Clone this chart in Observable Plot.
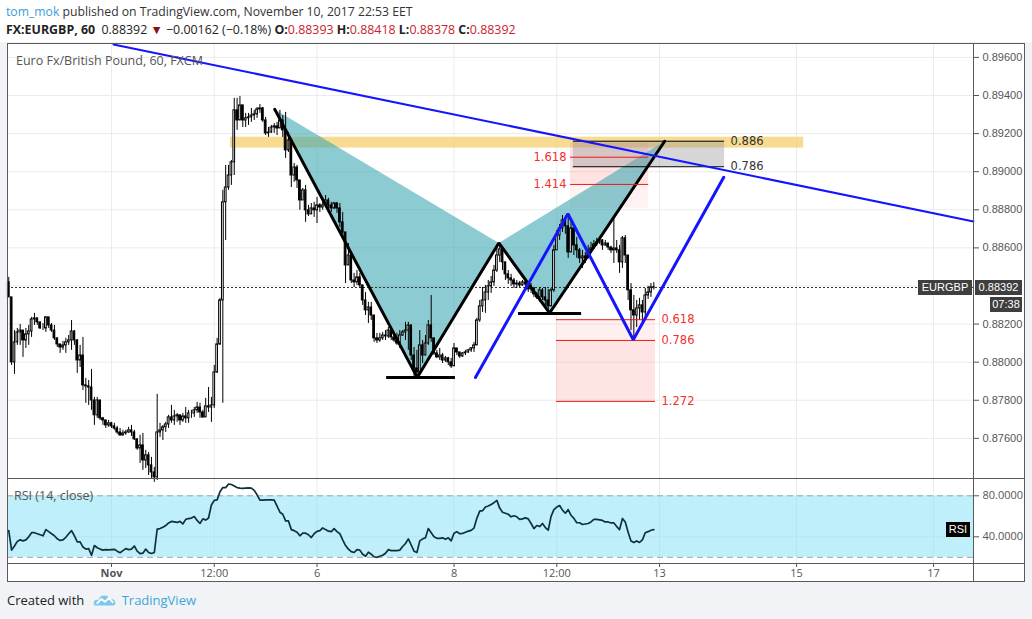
<!DOCTYPE html>
<html><head><meta charset="utf-8">
<script src="https://cdn.jsdelivr.net/npm/d3@7"></script>
<script src="https://cdn.jsdelivr.net/npm/@observablehq/plot@0.6"></script>
<style>
html,body{margin:0;padding:0;}
body{width:1032px;height:619px;background:#f1f3f6;position:relative;overflow:hidden;font-family:"Open Sans",sans-serif;}
#hdr{position:absolute;left:0;top:0;width:1032px;height:42px;background:#fff;}
#hdr .l1{position:absolute;left:6px;top:3px;font-size:12.2px;color:#333;white-space:nowrap;}
#hdr .l2{position:absolute;left:6px;top:21px;font-size:12.4px;color:#222;white-space:nowrap;}
.red{color:#c8232c}
#chart{position:absolute;left:7px;top:43px;width:1018px;height:539px;background:#fff;}
#main{position:absolute;left:0;top:0;}
#rsi{position:absolute;left:0;top:436px;}
.ln{position:absolute;background:#5a5a5a;}
.tag{position:absolute;color:#fff;font:11px "Liberation Sans",Arial,sans-serif;height:15px;line-height:15px;text-align:center;}
.leg{position:absolute;font-size:12.5px;color:#555;white-space:nowrap;}
#foot{position:absolute;left:7px;top:591px;font-size:13px;color:#222;white-space:nowrap;}
#foot .tv{color:#3ea6da;}
</style></head><body>
<div id="hdr">
  <div class="l1"><span style="color:#3aa0d8">tom_mok</span> published on TradingView.com, November 10, 2017 22:53 EET</div>
  <div class="l2"><b>FX:EURGBP, 60</b>&nbsp; 0.88392 <span style="color:#8b1010">&#9660;</span> &#8722;0.00162 (&#8722;0.18%) <b>O:</b><span class="red">0.88393</span> <b>H:</b><span class="red">0.88418</span> <b>L:</b><span class="red">0.88378</span> <b>C:</b><span class="red">0.88392</span></div>
</div>
<div id="chart">
  <div id="main"></div>
  <div id="rsi"></div>
</div>
<div id="foot"><span>Created with</span>
<svg width="24" height="16" viewBox="0 0 26 16" style="vertical-align:-3px;margin:0 5px 0 5px"><path d="M3 14 Q0 14 1 10 Q2 7 6 8 Q7 3 12 3 Q17 3 18 7 Q23 6 24 10 Q25 14 21 14 Z" fill="#7cc7ec"/><path d="M4 12 L9 7 L13 10 L17 6 L22 11" fill="none" stroke="#fff" stroke-width="2"/></svg><span class="tv">TradingView</span></div>
<script>
// ---------- data ----------
const firstOpen = 0.88419;
const closes = [.88340,.87999,.88104,.88156,.88166,.88114,.88146,.88161,.88224,.88230,
.88209,.88177,.88177,.88235,.88193,.88166,.88125,.88093,.88077,.88088,
.88104,.88114,.88161,.88114,.88009,.88035,.87878,.87873,.87867,.87799,
.87721,.87799,.87705,.87694,.87668,.87679,.87663,.87652,.87631,.87616,
.87626,.87631,.87642,.87631,.87595,.87547,.87563,.87484,.87511,.87458,
.87421,.87395,.87631,.87642,.87658,.87673,.87710,.87694,.87715,.87721,
.87694,.87715,.87705,.87731,.87731,.87747,.87762,.87736,.87710,.87768,
.87762,.87773,.87946,.88093,.88324,.88839,.88917,.88980,.89049,.89322,
.89269,.89348,.89269,.89280,.89285,.89295,.89301,.89327,.89332,.89269,
.89201,.89206,.89232,.89238,.89227,.89269,.89217,.89112,.89164,.88980,
.89022,.88954,.88849,.88902,.88797,.88776,.88807,.88797,.88823,.88812,
.88823,.88849,.88823,.88807,.88833,.88807,.88734,.88681,.88508,.88560,
.88429,.88419,.88445,.88403,.88324,.88272,.88287,.88245,.88125,.88114,
.88125,.88140,.88135,.88166,.88130,.88114,.88098,.88140,.88156,.88166,
.88193,.88035,.87967,.87946,.88088,.88035,.88098,.88193,.88125,.88046,
.88025,.88035,.88009,.88020,.87999,.87978,.88072,.88051,.88030,.88046,
.88051,.88062,.88072,.88088,.88219,.88293,.88324,.88366,.88398,.88419,
.88481,.88560,.88592,.88524,.88461,.88440,.88429,.88408,.88413,.88403,
.88419,.88408,.88382,.88387,.88356,.88340,.88377,.88340,.88324,.88293,
.88377,.88587,.88665,.88702,.88744,.88713,.88576,.88702,.88613,.88587,
.88545,.88555,.88545,.88587,.88597,.88618,.88629,.88639,.88613,.88623,
.88602,.88587,.88597,.88587,.88524,.88650,.88560,.88377,.88272,.88245,
.88282,.88298,.88261,.88350,.88366,.88393,.88392];
const highs = [.88445,.88340,.88166,.88177,.88198,.88156,.88177,.88193,.88235,.88256,
.88230,.88203,.88203,.88240,.88235,.88203,.88193,.88125,.88093,.88109,
.88125,.88140,.88219,.88166,.88119,.88088,.88130,.87915,.87904,.87962,
.87815,.87815,.87773,.87710,.87694,.87694,.87684,.87679,.87663,.87652,
.87642,.87642,.87658,.87668,.87642,.87589,.87616,.87626,.87537,.87526,
.87500,.87448,.87831,.87679,.87668,.87684,.87721,.87773,.87747,.87731,
.87721,.87731,.87762,.87747,.87747,.87762,.87789,.87784,.87747,.87810,
.87867,.87815,.87983,.88125,.88335,.88902,.89033,.89033,.89059,.89385,
.89385,.89395,.89311,.89306,.89306,.89332,.89322,.89337,.89353,.89337,
.89285,.89232,.89243,.89253,.89259,.89322,.89295,.89311,.89206,.89138,
.89043,.89033,.88938,.88912,.88928,.88823,.88833,.88839,.88865,.88833,
.88839,.88875,.88860,.88839,.88839,.88839,.88833,.88786,.88665,.88623,
.88518,.88466,.88481,.88466,.88392,.88366,.88314,.88314,.88230,.88151,
.88151,.88156,.88166,.88182,.88166,.88156,.88151,.88166,.88166,.88209,
.88209,.88130,.88077,.88062,.88166,.88114,.88140,.88219,.88350,.88088,
.88062,.88072,.88046,.88030,.88025,.88020,.88098,.88072,.88046,.88051,
.88062,.88067,.88077,.88104,.88230,.88324,.88392,.88403,.88429,.88450,
.88508,.88602,.88623,.88587,.88508,.88481,.88461,.88440,.88429,.88424,
.88429,.88429,.88413,.88413,.88392,.88366,.88392,.88387,.88392,.88382,
.88387,.88613,.88692,.88723,.88770,.88755,.88770,.88744,.88692,.88655,
.88597,.88587,.88576,.88613,.88629,.88639,.88650,.88655,.88644,.88639,
.88618,.88608,.88755,.88639,.88613,.88660,.88665,.88481,.88413,.88350,
.88324,.88335,.88324,.88387,.88398,.88413,.88418];
const lows = [.88340,.87983,.87936,.88088,.88088,.88025,.88072,.88088,.88130,.88193,
.88193,.88172,.88166,.88156,.88177,.88156,.88114,.88077,.88046,.88062,
.88046,.88088,.88062,.88088,.87941,.87972,.87852,.87784,.87773,.87747,
.87668,.87705,.87694,.87668,.87652,.87658,.87652,.87642,.87621,.87610,
.87610,.87616,.87626,.87610,.87589,.87537,.87468,.87432,.87442,.87405,
.87390,.87369,.87379,.87605,.87589,.87631,.87652,.87679,.87668,.87684,
.87668,.87684,.87679,.87679,.87705,.87710,.87731,.87705,.87705,.87731,
.87736,.87684,.87757,.87941,.88088,.87784,.88639,.88902,.88928,.88980,
.89217,.89280,.89232,.89232,.89243,.89259,.89269,.89280,.89306,.89259,
.89190,.89180,.89201,.89201,.89190,.89232,.89180,.89070,.89101,.88917,
.88944,.88912,.88797,.88849,.88734,.88765,.88786,.88760,.88728,.88786,
.88797,.88818,.88797,.88786,.88802,.88781,.88707,.88650,.88413,.88518,
.88413,.88392,.88403,.88387,.88298,.88245,.88203,.88219,.88104,.88098,
.88104,.88114,.88114,.88125,.88114,.88104,.88088,.88072,.88135,.88114,
.88062,.88009,.87920,.87920,.87957,.87993,.88051,.88088,.88104,.88035,
.88020,.88009,.87993,.87999,.87983,.87967,.87999,.88035,.88020,.88025,
.88035,.88046,.88051,.88051,.88088,.88209,.88261,.88256,.88324,.88361,
.88398,.88471,.88524,.88481,.88429,.88408,.88398,.88387,.88387,.88392,
.88398,.88387,.88366,.88361,.88340,.88329,.88314,.88324,.88298,.88261,
.88356,.88366,.88587,.88639,.88681,.88671,.88545,.88613,.88560,.88545,
.88518,.88492,.88518,.88545,.88571,.88592,.88608,.88618,.88587,.88608,
.88587,.88571,.88518,.88571,.88466,.88492,.88518,.88324,.88166,.88130,
.88182,.88219,.88203,.88235,.88329,.88340,.88378];
const rsiValues = [46,27,31,35.5,37,36,37,40,44,44,
43,42,41,47,45,43,41,38,36.5,37,
39.5,43,46,41,35,35,30,28,28.5,22,
31.5,29.3,28,27,27.5,27.2,27.5,27.8,26,24.5,
26.5,28.5,27.5,28,31,26,23.5,24,28,24.7,
23.7,24.7,47.5,48,49.3,51,53.5,55,54.5,54,
55,52.5,57,57.8,58.3,59.7,56,53,57.5,56.3,
58.3,71,75.5,76,84,88,88,91.5,91,89.5,
88,87.5,87.2,87.5,87.8,87.5,85.3,81,75.7,75.7,
76,76,76,75.8,70,64,62,55.5,55.5,47,
46,44.5,41,43.5,43.5,42,39.3,43,45.3,46,
48.6,47,45.5,45,48,45,43,37,31.5,28,
25.5,24.7,27.5,27,23,21,25,23,20.5,20,
21,22,24,27.5,26.5,26.5,26.5,27,30.5,33.5,
38,32,26,24.7,36,38,39,48,44,40,
38.5,38.5,39,37.5,39,36,43.5,45,43,43.3,
44.5,45.5,46.3,48.5,58,65,65.5,69,70,71.5,
73.3,75.5,68,64,63,62,59.5,60.5,59.5,57,
57.5,58.5,57.5,53,48,51,50,53,49,46.4,
60,66.5,69,70.5,66,63,66.5,61,58,53.7,
53.7,52,52.5,53,54.5,57,57,56.5,56,54.5,
54.5,53.5,53.5,50,47,57.9,54.5,44.5,36,34.5,
36,34.5,37,44,45,46.4,47];

const priceGrid = [0.876,0.878,0.880,0.882,0.884,0.886,0.888,0.890,0.892,0.894,0.896];
// 0.884 label is hidden behind the last-price tag in the reference
const priceTickLabels = [0.876,0.878,0.880,0.882,0.886,0.888,0.890,0.892,0.894,0.896];
const tickBars = [36,72,108,156,192,228,276,324];
const tickLabels = ["Nov","12:00","6","8","12:00","13","15","17"];
const rsiTicks = [40,80];
const rsiBand = [20,80];
const xDomain = [-0.44,338];
const priceDomain = [0.87384,0.89673];
const rsiDomain = [13.95,95.9];

// drawings (bar index, price)
const harmonicXAB = [{i:93.2,p:0.89327},{i:143.1,p:0.87920},{i:171.7,p:0.88626}];
const harmonicBCD = [{i:171.7,p:0.88626},{i:189.5,p:0.88258},{i:229.8,p:0.89160}];
const harmonicPath = [{i:93.2,p:0.89327},{i:143.1,p:0.87920},{i:171.7,p:0.88626},{i:189.5,p:0.88258},{i:229.8,p:0.89160}];
const baseLines = [{i1:132.4,i2:156.5,p:0.87920},{i1:178.6,i2:200.7,p:0.88256}];
const abcdPath = [{i:163.5,p:0.87920},{i:195.9,p:0.88779},{i:218.8,p:0.88118},{i:250.5,p:0.88971}];
const trendLine = [{i:36.7,p:0.89668},{i:338,p:0.88739}];
const supplyZone = [{i1:77.7,i2:278.5,p1:0.89124,p2:0.89181}];
const projBox = [{i1:197.8,i2:250.8,p1:0.89026,p2:0.89160}];
const projLevels = [{label:"0.886",p:0.89160},{label:"0.786",p:0.89026}];
const extBox = [{i1:196.8,i2:224.2,p1:0.88933,p2:0.89149}];
const extBoxLight = [{i1:196.8,i2:224.2,p1:0.88807,p2:0.88933}];
const extLevels = [{label:"1.618",p:0.89076},{label:"1.414",p:0.88933}];
const retrLevels = [{label:"0.618",p:0.88223},{label:"0.786",p:0.88114},{label:"1.272",p:0.87794}];
const retrSpan = {i1:191.9,i2:226.6};
const retrBoxes = [{p1:0.88114,p2:0.88223,o:0.1},{p1:0.87794,p2:0.88114,o:0.18}];

// ---------- build ----------
const bars = closes.map((c,k)=>({i:k,o:k===0?firstOpen:closes[k-1],c,h:highs[k],l:lows[k]}));
const lastClose = closes[closes.length-1];
const grid = "#ebebeb";
const half = 0.3;

const main = Plot.plot({
  width:1018, height:436, marginLeft:0, marginRight:52, marginTop:0, marginBottom:0,
  style:{background:"transparent", fontFamily:"'Liberation Sans',Arial,sans-serif", fontSize:"11px", color:"#555", overflow:"visible"},
  x:{domain:xDomain, axis:null},
  y:{domain:priceDomain, axis:"right", ticks:priceTickLabels, tickFormat:d3.format(".5f"), tickSize:5, tickPadding:4, label:null},
  marks:[
    Plot.ruleY(priceGrid,{stroke:grid}),
    Plot.ruleX(tickBars,{stroke:grid}),
    Plot.rect(supplyZone,{x1:"i1",x2:"i2",y1:"p1",y2:"p2",fill:"#f3cf6b",fillOpacity:0.75}),
    Plot.rect(extBoxLight,{x1:"i1",x2:"i2",y1:"p1",y2:"p2",fill:"#ff8080",fillOpacity:0.1}),
    Plot.rect(extBox,{x1:"i1",x2:"i2",y1:"p1",y2:"p2",fill:"#ff8080",fillOpacity:0.22}),
    Plot.rect(retrBoxes,{x1:retrSpan.i1,x2:retrSpan.i2,y1:"p1",y2:"p2",fill:"#ff6b6b",fillOpacity:d=>d.o}),
    Plot.line(harmonicXAB,{x:"i",y:"p",fill:"#3fa9b3",fillOpacity:0.6,stroke:"none"}),
    Plot.line(harmonicBCD,{x:"i",y:"p",fill:"#3fa9b3",fillOpacity:0.6,stroke:"none"}),
    Plot.rect(projBox,{x1:"i1",x2:"i2",y1:"p1",y2:"p2",fill:"#999",fillOpacity:0.4}),
    Plot.ruleY([lastClose],{stroke:"#333",strokeDasharray:"2,2"}),
    Plot.ruleX(bars,{x:"i",y1:d=>Math.min(d.l,d.o,d.c),y2:d=>Math.max(d.h,d.o,d.c),stroke:"#000",strokeWidth:1}),
    Plot.rect(bars,{x1:d=>d.i-half,x2:d=>d.i+half,y1:"o",y2:"c",fill:d=>d.c>=d.o?"#fff":"#000",stroke:"#000",strokeWidth:1}),
    Plot.line(harmonicPath,{x:"i",y:"p",stroke:"#000",strokeWidth:3,strokeLinejoin:"miter"}),
    Plot.ruleY(baseLines,{x1:"i1",x2:"i2",y:"p",stroke:"#000",strokeWidth:3}),
    Plot.ruleY(projLevels,{x1:projBox[0].i1,x2:projBox[0].i2,y:"p",stroke:"#000",strokeWidth:1}),
    Plot.text(projLevels,{x:projBox[0].i2,y:"p",text:"label",dx:6,textAnchor:"start",fill:"#333",fontSize:11.5,fontFamily:"DejaVu Sans"}),
    Plot.ruleY(extLevels,{x1:extBox[0].i1,x2:extBox[0].i2,y:"p",stroke:"#f01818",strokeWidth:1}),
    Plot.text(extLevels,{x:extBox[0].i1,y:"p",text:"label",dx:-4,textAnchor:"end",fill:"#f23030",fontSize:11.5,fontFamily:"DejaVu Sans"}),
    Plot.ruleY(retrLevels,{x1:retrSpan.i1,x2:retrSpan.i2,y:"p",stroke:"#f01818",strokeWidth:1}),
    Plot.text(retrLevels,{x:retrSpan.i2,y:"p",text:"label",dx:6,textAnchor:"start",fill:"#f23030",fontSize:11.5,fontFamily:"DejaVu Sans"}),
    Plot.line(trendLine,{x:"i",y:"p",stroke:"#1414ff",strokeWidth:2}),
    Plot.line(abcdPath,{x:"i",y:"p",stroke:"#1414ff",strokeWidth:3,strokeLinejoin:"miter"})
  ]
});
document.getElementById("main").appendChild(main);

const rsiPlot = Plot.plot({
  width:1018, height:103, marginLeft:0, marginRight:52, marginTop:0, marginBottom:19,
  style:{background:"transparent", fontFamily:"'Open Sans',sans-serif", fontSize:"11px", color:"#555", overflow:"visible"},
  x:{domain:xDomain, axis:"bottom", ticks:tickBars, tickFormat:d=>tickLabels[tickBars.indexOf(d)], tickSize:4, tickPadding:2, label:null},
  y:{domain:rsiDomain, axis:"right", ticks:rsiTicks, tickFormat:d3.format(".4f"), tickSize:5, tickPadding:4, label:null},
  marks:[
    Plot.ruleY([40],{stroke:grid}),
    Plot.ruleX(tickBars,{stroke:grid}),
    Plot.rect([rsiBand],{x1:xDomain[0],x2:xDomain[1],y1:d=>d[0],y2:d=>d[1],fill:"#7fdff7",fillOpacity:0.5}),
    Plot.ruleY(rsiBand,{stroke:"#9aa4ad",strokeDasharray:"6,4"}),
    Plot.line(rsiValues,{x:(d,k)=>k,y:d=>d,stroke:"#10303d",strokeWidth:1.7})
  ]
});
document.getElementById("rsi").appendChild(rsiPlot);
d3.select(rsiPlot).selectAll("text").filter(function(){return this.textContent==="Nov";}).attr("font-weight","bold");

// frame lines and tags
const chart = document.getElementById("chart");
function addDiv(cls, css, html){const d=document.createElement("div");d.className=cls;Object.assign(d.style,css);if(html)d.innerHTML=html;chart.appendChild(d);return d;}
addDiv("ln",{left:"0px",top:"0px",width:"1018px",height:"1px"});
addDiv("ln",{left:"0px",top:"538px",width:"1018px",height:"1px"});
addDiv("ln",{left:"0px",top:"0px",width:"1px",height:"539px"});
addDiv("ln",{left:"1017px",top:"0px",width:"1px",height:"539px"});
addDiv("ln",{left:"966px",top:"0px",width:"1px",height:"539px"});
addDiv("ln",{left:"0px",top:"435px",width:"1018px",height:"1px"});
addDiv("ln",{left:"0px",top:"520px",width:"1018px",height:"1px"});

const ySc = main.scale("y");
const yMain = ySc && ySc.apply ? ySc.apply : d3.scaleLinear(priceDomain,[436,0]);
const rSc = rsiPlot.scale("y");
const yRsi = rSc && rSc.apply ? rSc.apply : d3.scaleLinear(rsiDomain,[84,0]);
const yp = yMain(lastClose);
addDiv("tag",{left:"911px",top:(yp-7.5)+"px",width:"54px",background:"#3f3f3f"},"EURGBP");
addDiv("tag",{left:"968px",top:(yp-7.5)+"px",width:"47px",background:"#3f3f3f"},d3.format(".5f")(lastClose));
addDiv("tag",{left:"983px",top:(yp+10)+"px",width:"32px",background:"#3f3f3f"},"07:38");
const yr = 436 + yRsi(rsiValues[rsiValues.length-1]);
addDiv("tag",{left:"939px",top:(yr-7.5)+"px",width:"24px",background:"#000"},"RSI");
addDiv("leg",{left:"9px",top:"9px"},"Euro Fx/British Pound, 60, FXCM");
addDiv("leg",{left:"7px",top:"444px"},"RSI (14, close)");
</script>
</body></html>
